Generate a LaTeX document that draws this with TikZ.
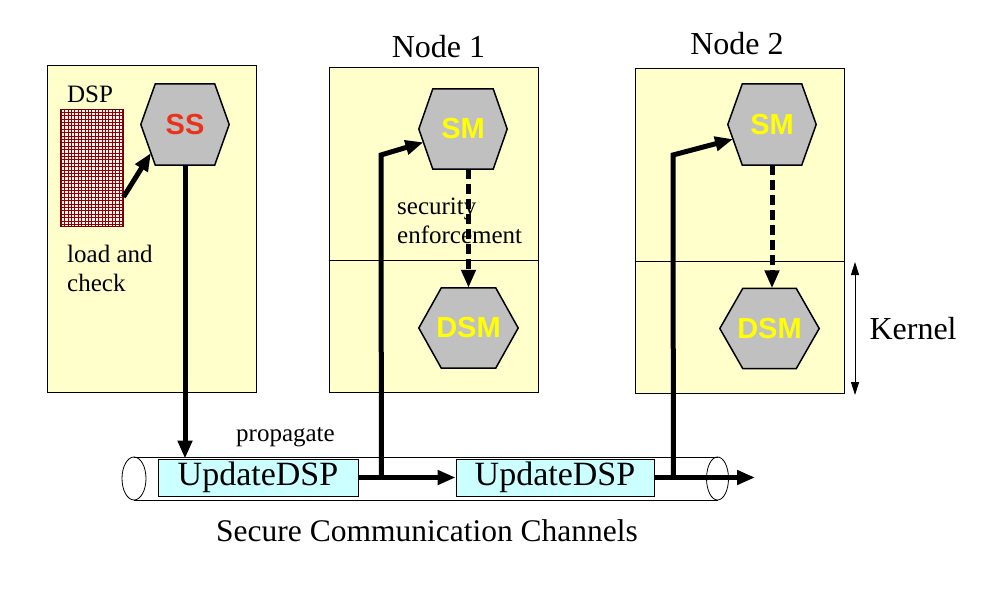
\documentclass[tikz,border=0pt]{standalone}
\usepackage{fontspec}
\setmainfont{Liberation Serif}
\newfontfamily\hexfont{Liberation Sans}
\usetikzlibrary{arrows.meta,calc,backgrounds,positioning}

\definecolor{boxyellow}{HTML}{FFFFCC}
\definecolor{updcyan}{HTML}{CCFFFF}
\definecolor{hexgray}{HTML}{C0C0C0}
\definecolor{ssred}{HTML}{E8321E}
\definecolor{smyellow}{HTML}{FFFF00}
\definecolor{gridred}{HTML}{8C0000}
\definecolor{gridpink}{HTML}{FCF0F0}

\begin{document}
\begin{tikzpicture}[x=1pt,y=-1pt,>={Triangle[length=18pt,width=14pt]},
    hostbox/.style={draw,line width=0.8pt,fill=boxyellow,minimum width=209pt,inner sep=0pt},
    hexa/.style={minimum width=88pt,minimum height=81pt,inner sep=0pt,font=\hexfont\bfseries\fontsize{29}{32}\selectfont},
    wide/.style={minimum width=99pt,minimum height=80pt},
    hexline/.style={draw=black,line width=1.5pt,fill=hexgray,line join=miter},
    upd/.style={draw,line width=0.8pt,fill=updcyan,minimum height=37pt,inner sep=0pt,font=\fontsize{34}{36}\selectfont},
    gridbox/.style={draw=gridred,line width=1pt,fill=gridpink,minimum width=62pt,minimum height=116pt,inner sep=0pt},
    big/.style={font=\fontsize{32}{36}\selectfont},
    small/.style={font=\fontsize{25}{29}\selectfont,align=left,inner sep=0pt},
    flow/.style={->,line width=5pt},
    enforce/.style={->,line width=5pt,dash pattern=on 10pt off 5pt}]
    \useasboundingbox (0,0) rectangle (1006,599);

    % hexagons
    \node[hexa,text=ssred] (SS) at (185,124.5) {SS};
    \node[hexa,text=smyellow,minimum height=80pt] (SM1) at (463,129) {SM};
    \node[hexa,wide,text=smyellow] (DSM1) at (468.5,328) {DSM};
    \node[hexa,text=smyellow] (SM2) at (772,124.5) {SM};
    \node[hexa,wide,text=smyellow] (DSM2) at (769.5,328.5) {DSM};

    % yellow hosts and hexagon outlines, kept behind
    \begin{scope}[on background layer]
      \node[hostbox,minimum height=327pt] (src) at (151.5,228.5) {};
      \node[hostbox,minimum height=325pt] (host1) at (433.5,229.5) {};
      \node[hostbox,minimum height=325pt] (host2) at (739.5,230.5) {};
      \draw[line width=0.8pt] (host1.west |- 0,260) -- (host1.east |- 0,260);
      \draw[line width=0.8pt] (host2.west |- 0,261) -- (host2.east |- 0,261);
      \foreach \h/\t in {SS/14.5,SM1/14,SM2/14.5,DSM1/22.5,DSM2/23}
        \path[hexline] (\h.west) -- ([xshift=\t pt]\h.north west) -- ([xshift=-\t pt]\h.north east)
          -- (\h.east) -- ([xshift=-\t pt]\h.south east) -- ([xshift=\t pt]\h.south west) -- cycle;
    \end{scope}

    % the DSP
    \node[gridbox] (dsp) at (92,168) {};
    \draw[gridred,line width=0.9pt,step=3.4pt] (dsp.south west) grid (dsp.north east);
    \draw[gridred!80!black,line width=1pt] (dsp.south west) rectangle (dsp.north east);

    % channel
    \coordinate (pipeL) at (134,478.5);
    \coordinate (pipeR) at (717.5,478.5);
    \draw[line width=0.8pt] ([yshift=21.5pt]pipeL) -- ([yshift=21.5pt]pipeR);
    \draw[line width=0.8pt] ([yshift=-21.5pt]pipeL) -- ([yshift=-21.5pt]pipeR);
    \draw[line width=0.8pt] (pipeL) ellipse [x radius=12pt,y radius=21.5pt];
    \draw[line width=0.8pt] (pipeR) ellipse [x radius=11pt,y radius=21.5pt];
    \node[upd,minimum width=200pt] (upd1) at (258,477.5) {UpdateDSP};
    \node[upd,minimum width=198pt] (upd2) at (555,477.5) {UpdateDSP};

    % labels
    \node[small] (dsplbl) at (90,94) {DSP};
    \node[small,anchor=west] (loadlbl) at (67,268) {load and\\check};
    \node[small,anchor=west] (seclbl) at (397,221) {security\\enforcement};
    \node[big] (n1lbl) at (438.5,47) {Node 1};
    \node[big] (n2lbl) at (737,44) {Node 2};
    \node[small] (proplbl) at (285.5,437) {propagate};
    \node[big,font=\fontsize{31.5}{36}\selectfont] (chanlbl) at (427,531) {Secure Communication Channels};
    \node[big,anchor=west] (kernlbl) at (866,329) {Kernel};

    % junctions and bends
    \coordinate (j1) at ($(upd1.east)+(23,0)$);
    \coordinate (b1) at (381,155);
    \coordinate (j2) at ($(upd2.east)+(19,0)$);
    \coordinate (b2) at (673,155);
    \coordinate (out) at (755,477.5);
    \coordinate (ktop) at (855,262);
    \coordinate (kbot) at (855,395);

    % load, propagate and update
    \draw[flow] ([yshift=-29pt]dsp.east) -- ($(SS.west)!.7!([xshift=14.5pt]SS.south west)$);
    \draw[flow] (SS.south) -- (SS.south |- upd1.north);
    \draw[flow] (upd1.east) -- (upd2.west);
    \draw[flow] (upd2.east) -- (out);
    \draw[flow] (j1) -- (b1) -- ($(SM1.west)!.33!([xshift=14pt]SM1.south west)$);
    \draw[flow] (j2) -- (b2) -- ($(SM2.west)!.36!([xshift=14.5pt]SM2.south west)$);
    % security enforcement
    \draw[enforce] (DSM1.north |- SM1.south) -- (DSM1.north);
    \draw[enforce] (SM2.south) -- (SM2.south |- DSM2.north);
    % kernel extent
    \draw[{Triangle[length=13pt,width=8pt]}-{Triangle[length=13pt,width=8pt]},line width=1pt] (ktop) -- (kbot);
\end{tikzpicture}
\end{document}
